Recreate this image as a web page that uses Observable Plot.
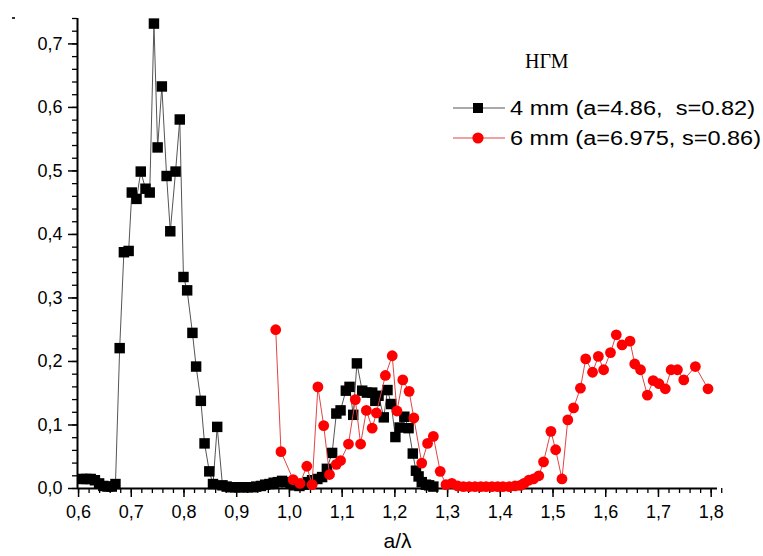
<!DOCTYPE html>
<html><head><meta charset="utf-8">
<script src="https://cdn.jsdelivr.net/npm/d3@7"></script>
<script src="https://cdn.jsdelivr.net/npm/@observablehq/plot@0.6"></script>
<style>body{margin:0;background:#fff}</style>
</head><body><div id="chart"></div>
<script>
// 4 mm series (black squares)
const blackX = [0.607,0.615,0.623,0.631,0.639,0.647,0.655,0.663,0.670,0.678,0.686,0.695,0.701,0.710,0.718,0.727,0.735,0.743,0.750,0.758,0.767,0.774,0.784,0.792,0.799,0.806,0.816,0.823,0.832,0.839,0.848,0.855,0.863,0.873,0.881,0.889,0.897,0.905,0.913,0.921,0.929,0.937,0.946,0.954,0.962,0.970,0.978,0.986,0.994,1.002,1.010,1.019,1.027,1.035,1.043,1.053,1.062,1.071,1.081,1.089,1.097,1.107,1.114,1.121,1.128,1.138,1.147,1.157,1.163,1.169,1.179,1.186,1.193,1.201,1.209,1.218,1.226,1.234,1.240,1.245,1.251,1.259,1.265,1.273];
const blackY = [0.015,0.015,0.015,0.013,0.008,0.004,0.003,0.003,0.007,0.221,0.372,0.374,0.466,0.456,0.499,0.472,0.466,0.732,0.537,0.633,0.492,0.405,0.499,0.581,0.333,0.312,0.245,0.192,0.138,0.071,0.027,0.007,0.097,0.005,0.003,0.002,0.002,0.002,0.002,0.002,0.002,0.003,0.004,0.006,0.007,0.009,0.010,0.012,0.010,0.008,0.005,0.004,0.006,0.010,0.013,0.015,0.018,0.031,0.056,0.118,0.123,0.154,0.160,0.116,0.197,0.154,0.151,0.151,0.138,0.146,0.112,0.155,0.133,0.081,0.096,0.113,0.095,0.055,0.028,0.019,0.010,0.006,0.005,0.003];
// 6 mm series (red circles)
const redX = [0.974,0.984,1.007,1.020,1.033,1.043,1.054,1.065,1.076,1.089,1.097,1.112,1.125,1.135,1.146,1.157,1.165,1.182,1.195,1.204,1.215,1.227,1.236,1.251,1.262,1.273,1.286,1.297,1.308,1.319,1.330,1.341,1.352,1.363,1.373,1.384,1.395,1.405,1.417,1.428,1.438,1.445,1.454,1.463,1.473,1.482,1.496,1.505,1.517,1.528,1.539,1.552,1.562,1.575,1.586,1.596,1.609,1.620,1.631,1.646,1.655,1.666,1.679,1.690,1.701,1.713,1.724,1.736,1.748,1.770,1.794];
const redY = [0.250,0.058,0.014,0.008,0.035,0.006,0.160,0.099,0.022,0.038,0.044,0.070,0.140,0.070,0.123,0.095,0.119,0.178,0.209,0.122,0.171,0.153,0.111,0.040,0.071,0.082,0.027,0.006,0.008,0.004,0.003,0.003,0.003,0.003,0.003,0.003,0.003,0.003,0.003,0.004,0.005,0.008,0.013,0.015,0.020,0.042,0.090,0.061,0.015,0.108,0.127,0.158,0.204,0.183,0.208,0.187,0.214,0.242,0.226,0.232,0.196,0.187,0.147,0.170,0.165,0.157,0.187,0.187,0.171,0.192,0.157];

const xMajorTicks = [0.6,0.7,0.8,0.9,1.0,1.1,1.2,1.3,1.4,1.5,1.6,1.7,1.8];
const yMajorTicks = [0,0.1,0.2,0.3,0.4,0.5,0.6,0.7];
const seriesNames = ["4 mm (a=4.86,  s=0.82)", "6 mm (a=6.975, s=0.86)"];
const legendTitle = "НГМ";
const xLabel = "a/λ";

const black = blackX.map((x, i) => ({x, y: blackY[i]}));
const red = redX.map((x, i) => ({x, y: redY[i]}));
const xMinor = d3.range(0, 62).map(i => 0.6 + i * 0.02);
const yMinor = d3.range(0, 38).map(i => i * 0.02);
const fmt = d => d.toFixed(1).replace(".", ",");
const font = "'Liberation Sans', Arial, sans-serif";

const plot = Plot.plot({
  width: 763, height: 556,
  marginLeft: 77, marginRight: 46, marginTop: 18, marginBottom: 68,
  x: {domain: [0.598, 1.812], label: null},
  y: {domain: [0, 0.74], label: null},
  style: {fontFamily: font, background: "#fff", color: "#000", overflow: "visible"},
  marks: [
    Plot.axisX({ticks: xMinor, tickSize: 5, tickFormat: () => "", strokeWidth: 1.3, label: null}),
    Plot.axisX({ticks: xMajorTicks, tickSize: 9, tickPadding: 8, tickFormat: fmt, fontSize: 18, strokeWidth: 1.5, label: null}),
    Plot.axisY({ticks: yMinor, tickSize: 5, tickFormat: () => "", strokeWidth: 1.3, label: null}),
    Plot.axisY({ticks: yMajorTicks, tickSize: 9, tickPadding: 6, tickFormat: fmt, fontSize: 18, strokeWidth: 1.5, label: null}),
    Plot.ruleY([0], {strokeWidth: 2}),
    Plot.ruleX([0.598], {strokeWidth: 2}),
    Plot.line(black, {x: "x", y: "y", stroke: "#555", strokeWidth: 1}),
    Plot.dot(black, {x: "x", y: "y", symbol: "square", r: 5.9, fill: "#000", stroke: "none"}),
    Plot.line(red, {x: "x", y: "y", stroke: "#e04545", strokeWidth: 1}),
    Plot.dot(red, {x: "x", y: "y", r: 5.4, fill: "#ff0000", stroke: "none"}),
    Plot.text([xLabel], {text: d => d, frameAnchor: "bottom", dy: 59, fontSize: 21, fill: "#000"})
  ]
});
document.getElementById("chart").appendChild(plot);

// legend
const svg = d3.select(plot);
const lg = svg.append("g").attr("text-anchor", "start");
svg.append("rect").attr("x", 12).attr("y", 17).attr("width", 3).attr("height", 2).attr("fill", "#333");
lg.append("text").attr("x", 525).attr("y", 68)
  .attr("font-family", "'Liberation Serif', 'Times New Roman', serif")
  .attr("font-size", 20).attr("fill", "#000").text(legendTitle);
const rows = [
  {name: seriesNames[0], line: "#555", fill: "#000", sym: "square", cy: 108, len: 245},
  {name: seriesNames[1], line: "#e04545", fill: "#ff0000", sym: "circle", cy: 138, len: 251}
];
rows.forEach(r => {
  lg.append("line").attr("x1", 453).attr("x2", 505).attr("y1", r.cy).attr("y2", r.cy)
    .attr("stroke", r.line).attr("stroke-width", 1);
  if (r.sym === "square") {
    lg.append("rect").attr("x", 473).attr("y", r.cy - 5).attr("width", 10).attr("height", 10).attr("fill", r.fill);
  } else {
    lg.append("circle").attr("cx", 478).attr("cy", r.cy).attr("r", 5.6).attr("fill", r.fill);
  }
  lg.append("text").attr("x", 510).attr("y", r.cy + 7).attr("font-family", font)
    .attr("font-size", 20).attr("fill", "#000")
    .attr("textLength", r.len).attr("lengthAdjust", "spacingAndGlyphs")
    .style("white-space", "pre").text(r.name);
});
</script>
</body></html>
